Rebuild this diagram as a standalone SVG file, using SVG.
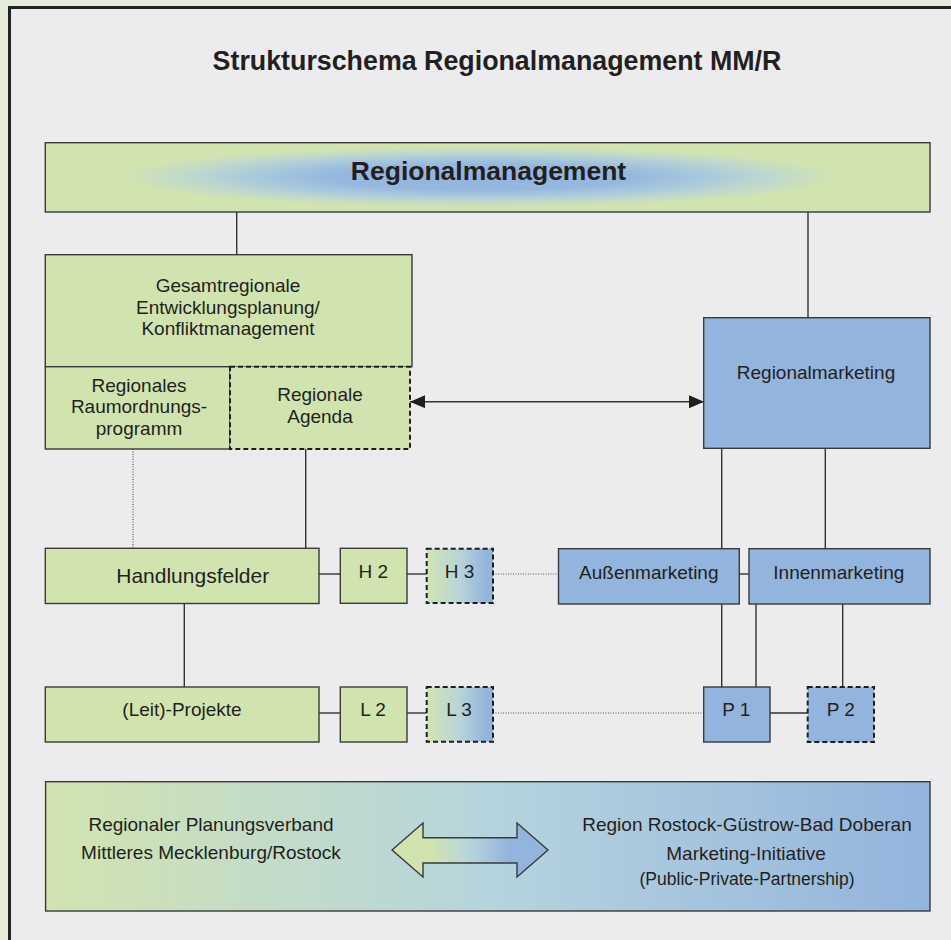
<svg xmlns="http://www.w3.org/2000/svg" width="951" height="940" viewBox="0 0 951 940">
<style>
text{font-family:"Liberation Sans",Arial,sans-serif;fill:#231f20;text-anchor:middle}
.t{font-size:19px}
.b{font-weight:bold}
.g{fill:#d1e4b0;stroke:#3a3a3a;stroke-width:1.4}
.bl{fill:#93b4dd;stroke:#3a3a3a;stroke-width:1.4}
.d{stroke:#1e1e1e;stroke-width:2;stroke-dasharray:5 3}
.c{stroke:#333;stroke-width:1.4;fill:none}
.dot{stroke:#555;stroke-width:1.2;stroke-dasharray:1 1.5;fill:none}
</style>
<defs>
<radialGradient id="rg" gradientUnits="userSpaceOnUse" cx="480" cy="177" r="360" gradientTransform="translate(480 177) scale(1 0.085) translate(-480 -177)">
<stop offset="0" stop-color="#92b3de"/>
<stop offset="0.42" stop-color="#97b8de"/>
<stop offset="0.62" stop-color="#a9c9dc"/>
<stop offset="0.82" stop-color="#c1d9cb"/>
<stop offset="1" stop-color="#d1e4b0"/>
</radialGradient>
<linearGradient id="gb" x1="0" y1="0" x2="1" y2="0">
<stop offset="0" stop-color="#d1e4b0"/>
<stop offset="0.5" stop-color="#b8d4d8"/>
<stop offset="0.9" stop-color="#93b4dd"/>
</linearGradient>
<linearGradient id="bb" x1="0" y1="0" x2="1" y2="0">
<stop offset="0" stop-color="#d1e4b0"/>
<stop offset="0.5" stop-color="#b6d4de"/>
<stop offset="1" stop-color="#93b4dd"/>
</linearGradient>
<linearGradient id="ab" x1="0" y1="0" x2="1" y2="0">
<stop offset="0.25" stop-color="#d1e4b0"/>
<stop offset="0.5" stop-color="#b6d4de"/>
<stop offset="0.75" stop-color="#93b4dd"/>
</linearGradient>
<marker id="ah" markerUnits="userSpaceOnUse" markerWidth="16" markerHeight="14" refX="15" refY="6.5" orient="auto-start-reverse">
<path d="M0,0 L15,6.5 L0,13 z" fill="#1e1e1e"/>
</marker>
</defs>
<rect x="0" y="0" width="951" height="940" fill="#e6ecdc"/>
<rect x="9.5" y="7.5" width="960" height="960" fill="#ececee" stroke="#222" stroke-width="3"/>
<text class="b" x="497" y="70" style="font-size:26.8px">Strukturschema Regionalmanagement MM/R</text>

<g id="connectors">
<line class="c" x1="236.7" y1="212" x2="236.7" y2="255"/>
<line class="c" x1="808" y1="212" x2="808" y2="318"/>
<line class="c" x1="410" y1="401.7" x2="704" y2="401.7" marker-start="url(#ah)" marker-end="url(#ah)"/>
<line class="dot" x1="133" y1="449" x2="133" y2="548"/>
<line class="c" x1="305.7" y1="449" x2="305.7" y2="548"/>
<line class="c" x1="184.3" y1="603.5" x2="184.3" y2="687"/>
<line class="c" x1="319" y1="574" x2="340" y2="574"/>
<line class="c" x1="407" y1="574" x2="427" y2="574"/>
<line class="dot" x1="493" y1="574" x2="558.5" y2="574"/>
<line class="c" x1="319" y1="713" x2="340" y2="713"/>
<line class="c" x1="407" y1="713" x2="427" y2="713"/>
<line class="dot" x1="493" y1="713" x2="704" y2="713"/>
<line class="c" x1="721.7" y1="448.3" x2="721.7" y2="548.7"/>
<line class="c" x1="825.3" y1="448.3" x2="825.3" y2="548.7"/>
<line class="c" x1="739.3" y1="574" x2="749" y2="574"/>
<line class="c" x1="721.7" y1="604" x2="721.7" y2="687"/>
<line class="c" x1="756" y1="604" x2="756" y2="687"/>
<line class="c" x1="842.7" y1="604" x2="842.7" y2="687"/>
<line class="c" x1="770" y1="713" x2="807.7" y2="713"/>
</g>

<g id="regionalmanagement">
<rect x="45.3" y="142.7" width="884.7" height="69.3" fill="url(#rg)" stroke="#3a3a3a" stroke-width="1.4"/>
<text class="b" x="488.5" y="180" style="font-size:26.5px">Regionalmanagement</text>
</g>
<g id="gesamtregionale">
<rect class="g" x="45.3" y="254.7" width="366.7" height="112"/>
<text class="t" x="228" y="292">Gesamtregionale</text>
<text class="t" x="228" y="313.7">Entwicklungsplanung/</text>
<text class="t" x="228" y="335.4">Konfliktmanagement</text>
</g>
<g id="raumordnungsprogramm">
<rect class="g" x="45.3" y="366.7" width="184.7" height="82.3"/>
<text class="t" x="139" y="391.7">Regionales</text>
<text class="t" x="139" y="413.4">Raumordnungs-</text>
<text class="t" x="139" y="435">programm</text>
</g>
<g id="agenda">
<rect class="g d" x="230" y="366.7" width="180" height="82.3"/>
<text class="t" x="320" y="400.7">Regionale</text>
<text class="t" x="320" y="423">Agenda</text>
</g>
<g id="regionalmarketing">
<rect class="bl" x="703.7" y="317.7" width="226.3" height="130.6"/>
<text class="t" x="816" y="379">Regionalmarketing</text>
</g>
<g id="handlungsfelder">
<rect class="g" x="45.3" y="548.3" width="273.7" height="55.2"/>
<text x="192.7" y="583.3" style="font-size:21px">Handlungsfelder</text>
</g>
<g id="h2">
<rect class="g" x="340.3" y="548.3" width="66.7" height="55"/>
<text class="t" x="373.3" y="578">H 2</text>
</g>
<g id="h3">
<rect x="426.7" y="548.7" width="66.3" height="54.3" fill="url(#gb)" stroke="#1e1e1e" stroke-width="2" stroke-dasharray="5 3"/>
<text class="t" x="459.5" y="578">H 3</text>
</g>
<g id="aussenmarketing">
<rect class="bl" x="558.5" y="548.7" width="180.8" height="55.3"/>
<text class="t" x="648.8" y="579">Außenmarketing</text>
</g>
<g id="innenmarketing">
<rect class="bl" x="749" y="548.7" width="181" height="55.3"/>
<text class="t" x="838.8" y="579">Innenmarketing</text>
</g>
<g id="leitprojekte">
<rect class="g" x="45.3" y="687" width="273.7" height="55"/>
<text class="t" x="182" y="716">(Leit)-Projekte</text>
</g>
<g id="l2">
<rect class="g" x="340.3" y="687" width="66.7" height="55"/>
<text class="t" x="373" y="716">L 2</text>
</g>
<g id="l3">
<rect x="426.7" y="687" width="66.3" height="54.7" fill="url(#gb)" stroke="#1e1e1e" stroke-width="2" stroke-dasharray="5 3"/>
<text class="t" x="459" y="716">L 3</text>
</g>
<g id="p1">
<rect class="bl" x="703.7" y="687" width="66.3" height="55"/>
<text class="t" x="736.3" y="715.7">P 1</text>
</g>
<g id="p2">
<rect x="807.7" y="687" width="66.3" height="55" fill="#93b4dd" stroke="#1e1e1e" stroke-width="2" stroke-dasharray="5 3"/>
<text class="t" x="840.8" y="715.7">P 2</text>
</g>
<g id="partner">
<rect x="45.6" y="781.7" width="884.4" height="129.3" fill="url(#bb)" stroke="#3a3a3a" stroke-width="1.4"/>
<text class="t" x="211" y="831">Regionaler Planungsverband</text>
<text class="t" x="211" y="859">Mittleres Mecklenburg/Rostock</text>
<path d="M392,850 L423,823 L423,837.7 L517,837.7 L517,823 L548,850 L517,877 L517,863 L423,863 L423,877 Z" fill="url(#ab)" stroke="#3a3a3a" stroke-width="1.4"/>
<text class="t" x="747" y="831">Region Rostock-Güstrow-Bad Doberan</text>
<text class="t" x="746" y="860">Marketing-Initiative</text>
<text x="747" y="885" style="font-size:17.5px">(Public-Private-Partnership)</text>
</g>
</svg>
